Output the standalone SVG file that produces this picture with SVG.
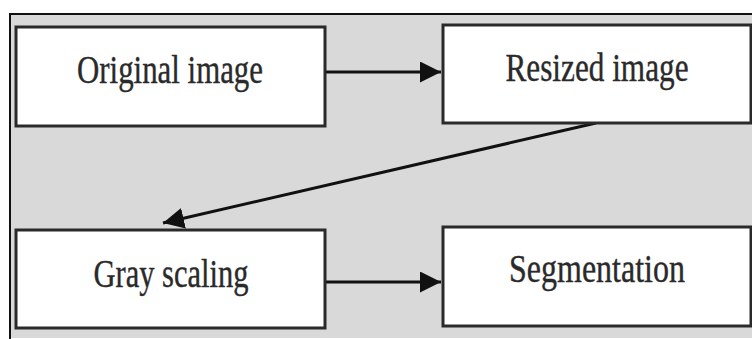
<svg xmlns="http://www.w3.org/2000/svg" width="752" height="339" viewBox="0 0 752 339">
  <style>
    .box { fill: #ffffff; stroke: #2a2a2a; stroke-width: 3; }
    .label { font-family: "Liberation Serif", "DejaVu Serif", serif; font-size: 41px; fill: #2a2a2a; stroke: #2a2a2a; stroke-width: 0.4; text-anchor: middle; }
    .conn { stroke: #111111; stroke-width: 3; fill: none; marker-end: url(#arrow); }
  </style>
  <defs>
    <marker id="arrow" markerWidth="7" markerHeight="7" refX="7" refY="3.5" orient="auto" markerUnits="strokeWidth">
      <path d="M0,0 L7,3.5 L0,7 Z" fill="#111111"/>
    </marker>
  </defs>

  <!-- page and frame -->
  <rect x="0" y="0" width="752" height="339" fill="#ffffff"/>
  <rect x="10" y="14" width="742" height="324" fill="#d9d9d9"/>
  <line x1="9" y1="14" x2="752" y2="14" stroke="#111" stroke-width="2"/>
  <line x1="10" y1="13" x2="10" y2="339" stroke="#111" stroke-width="2"/>

  <g id="connectors">
    <line class="conn" x1="325" y1="72" x2="441" y2="72"/>
    <line class="conn" x1="596" y1="123" x2="163" y2="223"/>
    <line class="conn" x1="325" y1="282" x2="441" y2="282"/>
  </g>

  <g id="original-image">
    <rect class="box" x="16" y="27" width="309" height="99"/>
    <text class="label" x="170" y="83" textLength="186" lengthAdjust="spacingAndGlyphs">Original image</text>
  </g>
  <g id="resized-image">
    <rect class="box" x="443" y="25" width="308" height="98"/>
    <text class="label" x="597" y="81" textLength="183" lengthAdjust="spacingAndGlyphs">Resized image</text>
  </g>
  <g id="gray-scaling">
    <rect class="box" x="16" y="230" width="309" height="98"/>
    <text class="label" x="171" y="287" textLength="155" lengthAdjust="spacingAndGlyphs">Gray scaling</text>
  </g>
  <g id="segmentation">
    <rect class="box" x="443" y="227" width="308" height="99"/>
    <text class="label" x="597" y="282" textLength="176" lengthAdjust="spacingAndGlyphs">Segmentation</text>
  </g>
</svg>
